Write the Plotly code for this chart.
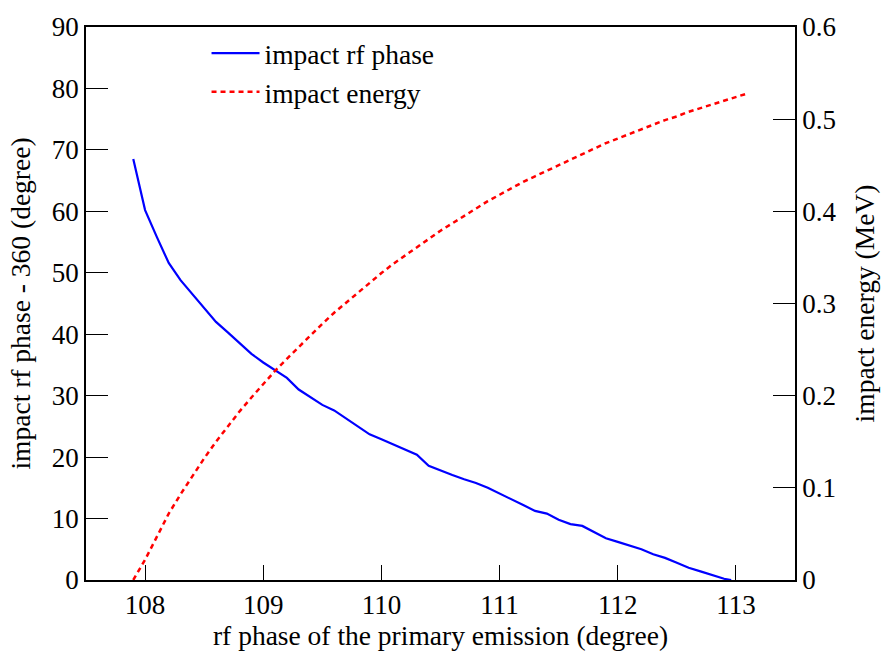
import plotly.graph_objects as go

# rf phase of the primary emission (degree)
phase_emit = [107.9, 108.0, 108.1, 108.2, 108.3, 108.4, 108.5, 108.6, 108.7, 108.8,
              108.9, 109.0, 109.1, 109.2, 109.3, 109.4, 109.5, 109.6, 109.7, 109.8,
              109.9, 110.0, 110.1, 110.2, 110.3, 110.4, 110.5, 110.6, 110.7, 110.8,
              110.9, 111.0, 111.1, 111.2, 111.3, 111.4, 111.5, 111.6, 111.7, 111.8,
              111.9, 112.0, 112.1, 112.2, 112.3, 112.4, 112.5, 112.6, 112.7, 112.8,
              112.9, 112.96]

# impact rf phase - 360 (degree)
impact_phase = [68.5, 60.2, 55.8, 51.6, 48.8, 46.5, 44.2, 42.0, 40.3, 38.5,
                36.8, 35.4, 34.2, 32.9, 31.0, 29.7, 28.5, 27.6, 26.3, 24.9,
                23.7, 22.9, 22.1, 21.2, 20.4, 18.6, 17.8, 17.1, 16.4, 15.8,
                15.0, 14.1, 13.2, 12.2, 11.25, 10.8, 9.8, 9.1, 8.8, 7.8,
                6.8, 6.2, 5.6, 5.0, 4.2, 3.6, 2.8, 2.0, 1.4, 0.8,
                0.2, 0.0]

# rf phase grid of the energy curve (degree)
phase_energy = [107.9, 108.0, 108.1, 108.2, 108.3, 108.4, 108.5, 108.6, 108.7, 108.8,
                108.9, 109.0, 109.1, 109.2, 109.3, 109.4, 109.5, 109.6, 109.7, 109.8,
                109.9, 110.0, 110.1, 110.2, 110.3, 110.4, 110.5, 110.6, 110.7, 110.8,
                110.9, 111.0, 111.1, 111.2, 111.3, 111.4, 111.5, 111.6, 111.7, 111.8,
                111.9, 112.0, 112.1, 112.2, 112.3, 112.4, 112.5, 112.6, 112.7, 112.8,
                112.9, 113.0, 113.1]

# impact energy (MeV)
impact_energy = [0.000, 0.022, 0.047, 0.072, 0.093, 0.113, 0.132, 0.150, 0.167, 0.183,
                 0.198, 0.213, 0.227, 0.240, 0.253, 0.266, 0.278, 0.290, 0.301, 0.312,
                 0.323, 0.333, 0.343, 0.352, 0.361, 0.370, 0.379, 0.387, 0.395, 0.403,
                 0.411, 0.418, 0.425, 0.432, 0.438, 0.444, 0.450, 0.456, 0.462, 0.468,
                 0.474, 0.479, 0.484, 0.489, 0.494, 0.499, 0.503, 0.508, 0.512, 0.516,
                 0.520, 0.524, 0.528]

x_ticks = [108, 109, 110, 111, 112, 113]
y1_ticks = [0, 10, 20, 30, 40, 50, 60, 70, 80, 90]
y2_ticks = [0, 0.1, 0.2, 0.3, 0.4, 0.5, 0.6]
y2_labels = ["0", "0.1", "0.2", "0.3", "0.4", "0.5", "0.6"]

FONT = "Liberation Serif, DejaVu Serif, serif"
TICK_SIZE = 27
TITLE_SIZE = 27.5

fig = go.Figure()
fig.add_trace(go.Scatter(
    x=phase_emit, y=impact_phase, mode="lines", name="impact rf phase",
    line=dict(color="#0000ff", width=2.2), yaxis="y"))
fig.add_trace(go.Scatter(
    x=phase_energy, y=impact_energy, mode="lines", name="impact energy",
    line=dict(color="#ff0000", width=2.5, dash="5px,4px"), yaxis="y2"))

fig.update_layout(
    width=887, height=655,
    margin=dict(l=86, r=90, t=22, b=73),
    paper_bgcolor="white", plot_bgcolor="white",
    font=dict(family=FONT, size=TICK_SIZE, color="black"),
    showlegend=True,
    legend=dict(x=0.17, y=0.997, xanchor="left", yanchor="top",
                bgcolor="rgba(0,0,0,0)", borderwidth=0,
                font=dict(family=FONT, size=TITLE_SIZE), tracegroupgap=4,
                itemwidth=48, entrywidthmode="pixels"),
    xaxis=dict(
        range=[107.5, 113.5], tickvals=x_ticks, ticks="inside", ticklen=15,
        tickwidth=1.3, tickcolor="black", showline=True, linecolor="black",
        linewidth=1.6, mirror=True, showgrid=False, zeroline=False,
        title=dict(text="rf phase of the primary emission (degree)", standoff=4,
                   font=dict(family=FONT, size=TITLE_SIZE)),
        tickfont=dict(family=FONT, size=TICK_SIZE)),
    yaxis=dict(
        range=[0, 90], tickvals=y1_ticks, ticks="inside", ticklen=22,
        tickwidth=1.3, tickcolor="black", showline=True, linecolor="black",
        linewidth=1.6, showgrid=False, zeroline=False,
        title=dict(text="impact rf phase - 360 (degree)", standoff=13,
                   font=dict(family=FONT, size=TITLE_SIZE)),
        tickfont=dict(family=FONT, size=TICK_SIZE)),
    yaxis2=dict(
        range=[0, 0.6], tickvals=y2_ticks, ticktext=y2_labels, overlaying="y",
        side="right", ticks="inside", ticklen=22, tickwidth=1.3,
        tickcolor="black", showline=True, linecolor="black", linewidth=1.6,
        showgrid=False, zeroline=False,
        title=dict(text="impact energy (MeV)", standoff=19,
                   font=dict(family=FONT, size=TITLE_SIZE)),
        tickfont=dict(family=FONT, size=TICK_SIZE)),
)

fig.write_html("out.html")
